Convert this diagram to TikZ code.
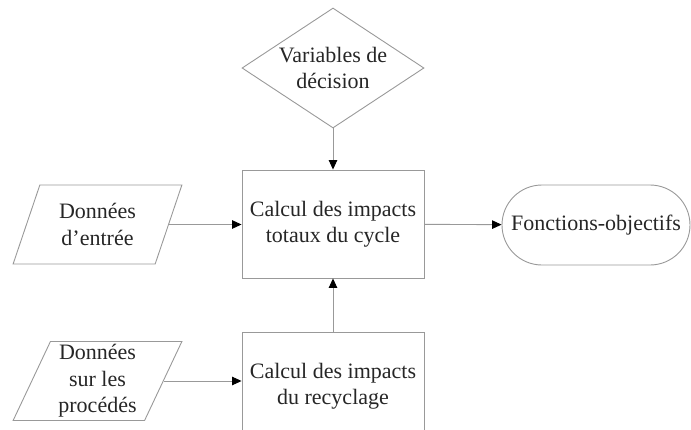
\documentclass[tikz,border=0pt]{standalone}
\usepackage{fontspec}
\setmainfont{Liberation Serif}
\usetikzlibrary{positioning,arrows.meta,shapes.geometric}

\begin{document}
\begin{tikzpicture}[x=1pt,y=-1pt,>={Triangle[length=9.5pt,width=8.5pt,color=black]},
  every node/.style={text=black!85,font=\fontsize{22}{26.5}\selectfont,align=center,draw=black!40,line width=0.9pt,inner sep=0pt},
  calcbox/.style={rectangle,minimum width=182pt,minimum height=108pt},
  databox/.style={trapezium,trapezium left angle=67,trapezium right angle=113,trapezium stretches=true,minimum width=169pt,minimum height=79pt},
  flow/.style={draw=black!40,line width=0.9pt,->}]
\useasboundingbox (0,0) rectangle (691,429);
\clip (0,0) rectangle (691,429);
\node[diamond,aspect=1.5,minimum width=182pt,minimum height=120pt] (var) at (333,68) {Variables de\\décision};
\node[calcbox] (total) at (333,224) {Calcul des impacts\\totaux du cycle};
\node[calcbox] (recyc) at (333,386) {Calcul des impacts\\du recyclage};
\node[databox] (entree) at (97.5,224.5) {Données\\d’entrée};
\node[databox] (procedes) at (97.5,381) {Données\\sur les\\procédés};
\node[rectangle,rounded corners=40pt,minimum width=188pt,minimum height=80pt] (obj) at (596,225) {Fonctions-objectifs};
\draw[flow] (var) -- (total);
\draw[flow] (recyc) -- (total);
\draw[flow] (total) -- (obj);
\draw[flow] (entree.east) -- (entree.east -| total.west);
\draw[flow] (procedes.east) -- (procedes.east -| recyc.west);
\end{tikzpicture}
\end{document}
